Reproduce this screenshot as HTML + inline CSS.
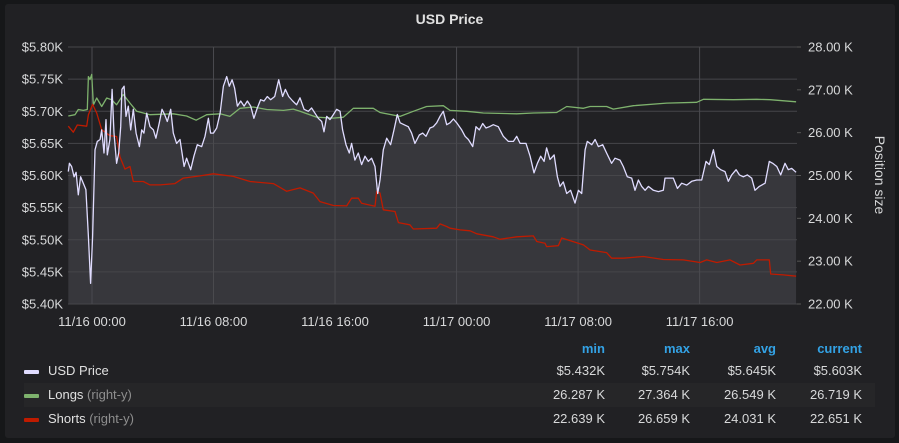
<!DOCTYPE html>
<html><head><meta charset="utf-8"><style>
html,body{margin:0;padding:0;background:#161719;width:899px;height:443px;overflow:hidden;font-family:"Liberation Sans",sans-serif}
#panel{position:absolute;left:5px;top:4px;width:890px;height:434px;background:#212124;border-radius:3px}
#title{position:absolute;left:0;width:899px;top:11px;text-align:center;color:#e0e0e0;font-size:14px;font-weight:bold}
svg{position:absolute;left:0;top:0}
.leg{position:absolute;font-size:13px;color:#e0e0e0}
.hdr{position:absolute;top:341px;font-size:13px;font-weight:bold;color:#33a2e5;text-align:right;width:80px}
.val{position:absolute;font-size:13px;color:#d8d9da;text-align:right;width:90px}
.sub{color:#8e8e8e}
.sw{position:absolute;left:24px;width:15px;height:4px;border-radius:1px}
</style></head><body>
<div id="panel"></div>
<div id="title">USD Price</div>
<svg id="chart" width="899" height="443"></svg>
<div style="position:absolute;left:24px;top:383px;width:851px;height:24px;background:#262628"></div>
<div class="sw" style="top:370px;background:#e0dcff"></div>
<div class="sw" style="top:394px;background:#7eb26d"></div>
<div class="sw" style="top:418px;background:#bf1b00"></div>
<div class="leg" style="left:48px;top:363px">USD Price</div>
<div class="leg" style="left:48px;top:387px">Longs <span class="sub">(right-y)</span></div>
<div class="leg" style="left:48px;top:411px">Shorts <span class="sub">(right-y)</span></div>
<div class="hdr" style="left:525px">min</div>
<div class="hdr" style="left:610px">max</div>
<div class="hdr" style="left:696px">avg</div>
<div class="hdr" style="left:782px">current</div>
<div id="vals"></div>
<script>
const priceT=[-1.56,-1.49,-1.34,-1.18,-1.05,-0.90,-0.75,-0.57,-0.40,-0.24,-0.09,0.04,0.20,0.35,0.53,0.64,0.79,0.92,1.01,1.18,1.32,1.45,1.62,1.76,1.89,1.97,2.11,2.24,2.39,2.55,2.72,2.90,3.12,3.27,3.42,3.60,3.82,4.04,4.21,4.43,4.61,4.78,4.96,5.18,5.35,5.57,5.79,6.06,6.23,6.50,6.71,6.93,7.22,7.44,7.66,7.81,7.99,8.21,8.43,8.65,8.87,9.04,9.22,9.39,9.57,9.79,10.01,10.23,10.45,10.66,10.88,11.10,11.32,11.54,11.76,12.03,12.29,12.55,12.73,12.95,13.21,13.47,13.69,13.96,14.24,14.46,14.68,14.90,15.12,15.27,15.45,15.67,15.89,16.11,16.33,16.50,16.72,16.94,17.09,17.31,17.53,17.75,17.97,18.19,18.41,18.63,18.81,18.96,19.18,19.40,19.66,19.88,20.10,20.28,20.54,20.82,21.04,21.26,21.55,21.77,21.99,22.25,22.47,22.69,22.91,23.13,23.35,23.57,23.79,24.01,24.34,24.56,24.78,25.06,25.28,25.50,25.72,25.94,26.16,26.42,26.75,27.08,27.41,27.74,27.96,28.18,28.57,28.84,29.10,29.32,29.54,29.76,29.93,30.15,30.42,30.64,30.81,31.03,31.25,31.51,31.80,32.02,32.24,32.46,32.61,32.90,33.12,33.34,33.62,33.88,34.21,34.43,34.76,34.98,35.24,35.53,35.75,35.97,36.19,36.41,36.63,36.96,37.29,37.61,37.72,38.27,38.54,38.82,39.15,39.48,39.81,40.14,40.42,40.64,40.91,41.13,41.39,41.67,41.89,42.11,42.40,42.62,42.88,43.14,43.43,43.65,43.93,44.31,44.59,44.81,45.08,45.34,45.62,45.84,46.06,46.35];
const priceV=[5.606,5.619,5.614,5.598,5.605,5.570,5.598,5.588,5.578,5.505,5.432,5.505,5.640,5.653,5.656,5.671,5.635,5.687,5.632,5.656,5.734,5.666,5.619,5.635,5.676,5.734,5.739,5.692,5.708,5.671,5.703,5.666,5.645,5.671,5.666,5.697,5.676,5.671,5.658,5.682,5.703,5.695,5.684,5.703,5.666,5.650,5.656,5.614,5.627,5.609,5.630,5.648,5.645,5.661,5.689,5.666,5.666,5.674,5.697,5.739,5.754,5.739,5.749,5.736,5.708,5.716,5.708,5.716,5.708,5.689,5.705,5.718,5.716,5.723,5.718,5.723,5.749,5.723,5.734,5.723,5.716,5.710,5.721,5.703,5.700,5.705,5.697,5.689,5.684,5.668,5.692,5.687,5.695,5.703,5.700,5.671,5.648,5.635,5.650,5.624,5.635,5.617,5.630,5.622,5.627,5.614,5.572,5.593,5.640,5.658,5.648,5.671,5.695,5.682,5.679,5.676,5.666,5.650,5.663,5.666,5.661,5.674,5.676,5.682,5.692,5.700,5.679,5.682,5.688,5.682,5.671,5.661,5.656,5.645,5.676,5.671,5.681,5.674,5.676,5.679,5.676,5.661,5.653,5.653,5.661,5.650,5.650,5.630,5.604,5.619,5.630,5.622,5.643,5.625,5.632,5.598,5.583,5.590,5.572,5.577,5.557,5.577,5.572,5.640,5.653,5.648,5.656,5.645,5.648,5.635,5.619,5.627,5.624,5.614,5.598,5.596,5.577,5.593,5.583,5.577,5.583,5.577,5.575,5.577,5.596,5.596,5.580,5.588,5.585,5.591,5.593,5.593,5.622,5.617,5.640,5.614,5.609,5.606,5.591,5.601,5.609,5.601,5.598,5.601,5.596,5.577,5.583,5.588,5.622,5.619,5.614,5.601,5.619,5.609,5.611,5.605];
const longsT=[-1.56,-1.12,-0.90,-0.57,-0.31,-0.24,-0.13,-0.02,0.09,0.31,0.64,0.97,1.29,1.62,2.06,2.50,2.94,3.82,5.35,6.23,6.85,7.55,8.43,9.08,9.74,10.62,11.50,12.60,13.25,13.69,14.79,15.89,16.55,17.20,18.52,18.96,20.28,21.15,22.03,23.13,23.57,24.67,25.76,27.96,29.06,30.59,31.25,32.35,32.79,33.88,34.32,35.64,37.83,39.81,40.25,42.22,43.76,44.64,46.35];
const longsV=[26.39,26.42,26.54,26.52,26.54,27.31,27.24,27.36,26.65,26.81,26.61,26.81,26.77,26.65,26.89,26.69,26.50,26.42,26.44,26.39,26.29,26.42,26.44,26.38,26.57,26.60,26.54,26.52,26.55,26.50,26.36,26.34,26.36,26.57,26.57,26.47,26.38,26.50,26.61,26.63,26.52,26.50,26.46,26.44,26.46,26.47,26.61,26.57,26.61,26.61,26.55,26.63,26.69,26.71,26.78,26.77,26.78,26.77,26.72];
const shortsT=[-1.56,-1.23,-0.97,-0.35,-0.24,0.04,0.31,0.64,1.18,1.62,1.84,2.17,2.50,2.72,3.38,3.82,4.48,5.46,6.01,7.11,7.99,9.30,10.40,11.94,12.82,13.69,14.57,15.01,15.89,16.77,17.09,17.53,17.75,18.63,18.74,18.96,19.18,19.95,20.17,20.93,21.15,22.69,22.91,23.35,23.57,24.23,24.89,25.33,26.42,26.86,27.96,29.06,29.28,29.82,29.93,30.70,30.92,31.47,32.35,32.79,33.88,34.21,34.98,36.30,37.61,38.93,40.03,40.47,41.13,42.00,42.66,43.54,43.76,44.59,44.68,45.52,46.35];
const shortsV=[26.15,26.01,26.18,26.15,26.42,26.66,26.46,26.07,25.93,25.91,25.44,25.15,25.21,24.86,24.86,24.78,24.78,24.81,24.94,24.99,25.04,24.98,24.86,24.81,24.63,24.71,24.59,24.39,24.30,24.29,24.47,24.47,24.35,24.28,24.63,24.59,24.20,24.16,23.90,23.85,23.75,23.77,23.87,23.81,23.77,23.73,23.71,23.64,23.57,23.51,23.57,23.59,23.46,23.42,23.34,23.36,23.54,23.48,23.38,23.26,23.20,23.07,23.07,23.11,23.04,23.03,22.97,23.03,22.97,23.03,22.91,22.95,23.03,23.03,22.70,22.68,22.65];
const leftTicks=[5.40,5.45,5.50,5.55,5.60,5.65,5.70,5.75,5.80];
const rightTicks=[22,23,24,25,26,27,28];
const xTickHours=[0,8,16,24,32,40];
const xTickLabels=["11/16 00:00","11/16 08:00","11/16 16:00","11/17 00:00","11/17 08:00","11/17 16:00"];
const legendValues=[["$5.432K","$5.754K","$5.645K","$5.603K"],["26.287 K","27.364 K","26.549 K","26.719 K"],["22.639 K","26.659 K","24.031 K","22.651 K"]];

const NS="http://www.w3.org/2000/svg";
const svg=document.getElementById('chart');
const X0=68,X1=797,Y0=47,Y1=304;
const xs=h=>92+h*15.19;
const yl=v=>Y1-(v-5.40)/0.40*(Y1-Y0);
const yr=v=>Y1-(v-22)/6*(Y1-Y0);
function mk(tag,attrs){const e=document.createElementNS(NS,tag);for(const k in attrs)e.setAttribute(k,attrs[k]);svg.appendChild(e);return e;}
let d='M'+xs(priceT[0])+','+Y1;
priceT.forEach((t,i)=>{d+=' L'+xs(t).toFixed(1)+','+yl(priceV[i]).toFixed(1);});
d+=' L'+xs(priceT[priceT.length-1])+','+Y1+' Z';
const fill=mk('path',{d:d,fill:'#37373c'});


leftTicks.forEach(v=>{const y=yl(v);
 const g=mk('line',{x1:X0,x2:X1,y1:y,y2:y,stroke:'#46464a','stroke-width':1});
 
 
 const t=mk('text',{x:63,y:y+4.5,'text-anchor':'end',fill:'#d8d9da','font-size':13});
 t.textContent='$'+v.toFixed(2)+'K';
 
 });
rightTicks.forEach(v=>{const y=yr(v);
 const g=mk('line',{x1:X1,x2:X1+4,y1:y,y2:y,stroke:'#555','stroke-width':1});
 
 
 const t=mk('text',{x:808,y:y+4.5,fill:'#d8d9da','font-size':13});
 t.textContent=v.toFixed(2)+' K';
 
 });
xTickHours.forEach((h,i)=>{const x=xs(h);
 const g=mk('line',{x1:x,x2:x,y1:Y0,y2:Y1,stroke:'#4a4a4f','stroke-width':1});
 
 
 const t=mk('text',{x:x,y:326,'text-anchor':'middle',fill:'#d8d9da','font-size':13});
 t.textContent=xTickLabels[i];
 
 });
const yt=mk('text',{x:0,y:0,fill:'#d8d9da','font-size':14,'text-anchor':'middle',transform:'translate(875,175) rotate(90)'});
yt.textContent='Position size';


function line(T,V,f,color,name){
 const p=mk('polyline',{points:T.map((t,i)=>xs(t).toFixed(1)+','+f(V[i]).toFixed(1)).join(' '),fill:'none',stroke:color,'stroke-width':1.3,'stroke-linejoin':'round'});
 
 
}
line(longsT,longsV,yr,'#7eb26d','longs-line');
line(shortsT,shortsV,yr,'#bf1b00','shorts-line');
line(priceT,priceV,yl,'#e0dcff','price-line');
const vals=document.getElementById('vals');
const lefts=[515,600,686,772];
legendValues.forEach((row,r)=>row.forEach((v,c)=>{
 const e=document.createElement('div');e.className='val';
 e.style.left=lefts[c]+'px';e.style.top=(363+r*24)+'px';e.textContent=v;
 
 
 vals.appendChild(e);}));
</script>
</body></html>
